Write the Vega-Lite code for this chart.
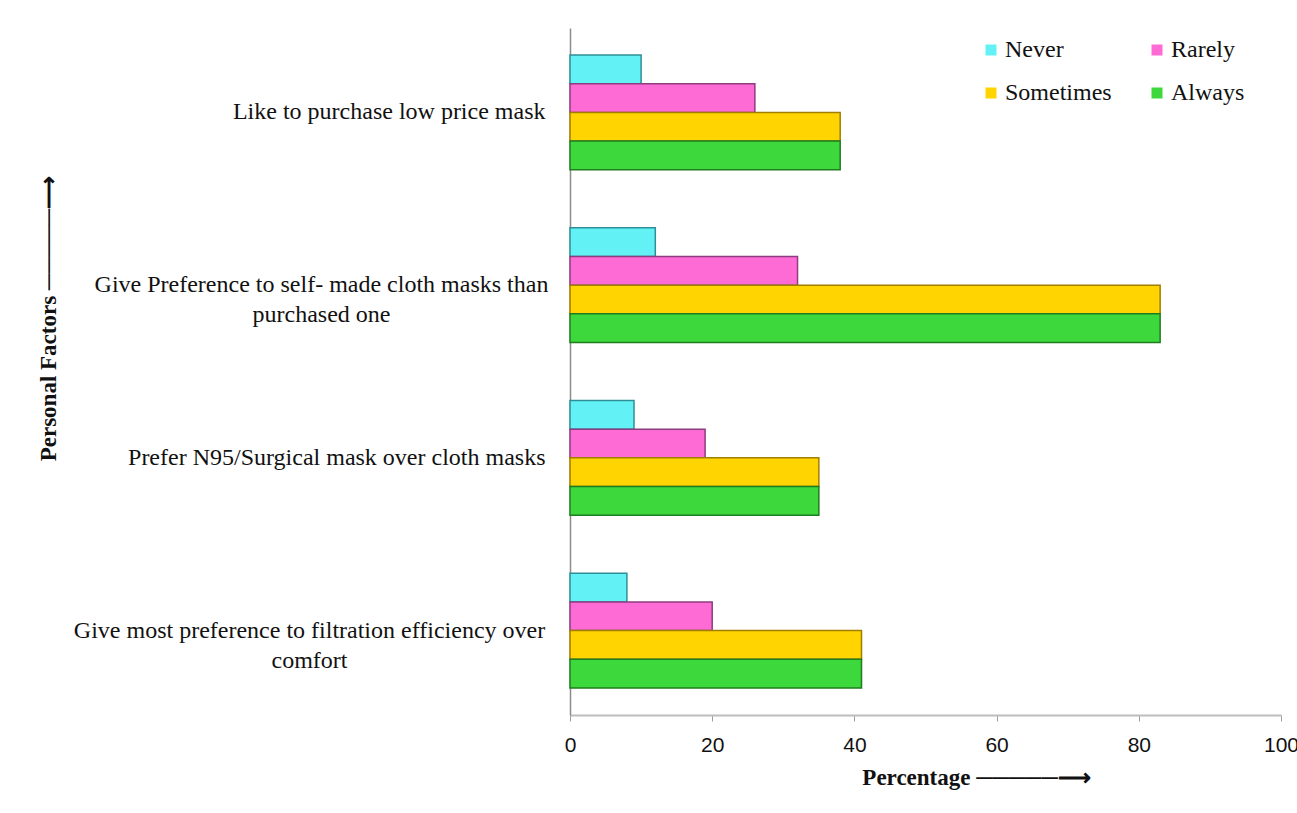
{
  "$schema": "https://vega.github.io/schema/vega-lite/v6.json",
  "autosize": {"type": "none"},
  "width": 711,
  "height": 687,
  "padding": {"left": 570, "top": 28, "right": 16, "bottom": 98},
  "background": "white",
  "config": {
    "view": {"stroke": null},
    "font": "Liberation Serif"
  },
  "data": {
    "values": [
      {"factor": "Like to purchase  low price mask", "response": "Never", "pct": 10},
      {"factor": "Like to purchase  low price mask", "response": "Rarely", "pct": 26},
      {"factor": "Like to purchase  low price mask", "response": "Sometimes", "pct": 38},
      {"factor": "Like to purchase  low price mask", "response": "Always", "pct": 38},
      {"factor": "Give Preference to self- made cloth masks than|purchased one", "response": "Never", "pct": 12},
      {"factor": "Give Preference to self- made cloth masks than|purchased one", "response": "Rarely", "pct": 32},
      {"factor": "Give Preference to self- made cloth masks than|purchased one", "response": "Sometimes", "pct": 83},
      {"factor": "Give Preference to self- made cloth masks than|purchased one", "response": "Always", "pct": 83},
      {"factor": "Prefer N95/Surgical mask over cloth masks", "response": "Never", "pct": 9},
      {"factor": "Prefer N95/Surgical mask over cloth masks", "response": "Rarely", "pct": 19},
      {"factor": "Prefer N95/Surgical mask over cloth masks", "response": "Sometimes", "pct": 35},
      {"factor": "Prefer N95/Surgical mask over cloth masks", "response": "Always", "pct": 35},
      {"factor": "Give most preference to filtration efficiency over|comfort", "response": "Never", "pct": 8},
      {"factor": "Give most preference to filtration efficiency over|comfort", "response": "Rarely", "pct": 20},
      {"factor": "Give most preference to filtration efficiency over|comfort", "response": "Sometimes", "pct": 41},
      {"factor": "Give most preference to filtration efficiency over|comfort", "response": "Always", "pct": 41}
    ]
  },
  "mark": {"type": "bar", "strokeWidth": 1.5},
  "encoding": {
    "y": {
      "field": "factor",
      "type": "nominal",
      "sort": null,
      "scale": {"paddingInner": 0.335, "paddingOuter": 0.156},
      "axis": {
        "title": "Personal Factors \u2500\u2500\u2500\u2500\u2500\u27F6",
        "titleFont": "Liberation Serif",
        "titleFontWeight": "bold",
        "titleFontSize": 23,
        "titleColor": "#111",
        "titleX": -522,
        "titleY": 290,
        "titleAngle": -90,
        "titleAlign": "center",
        "titleBaseline": "middle",
        "ticks": false,
        "domainColor": "#8c8c8c",
        "domainWidth": 1.5,
        "labelFont": "Liberation Serif",
        "labelFontSize": 24,
        "labelColor": "#111",
        "labelPadding": 25,
        "labelLimit": 700,
        "labelLineHeight": 30,
        "labelExpr": "split(datum.value, '|')",
        "encoding": {
          "labels": {
            "align": {"condition": {"test": "indexof(datum.value, '|') >= 0", "value": "center"}, "value": "right"},
            "dx": {"condition": [{"test": "indexof(datum.value, 'self-') >= 0", "value": -224}, {"test": "indexof(datum.value, 'filtration') >= 0", "value": -236}], "value": 0}
          }
        }
      }
    },
    "yOffset": {
      "field": "response",
      "type": "nominal",
      "sort": ["Never", "Rarely", "Sometimes", "Always"],
      "scale": {"paddingInner": 0, "paddingOuter": 0}
    },
    "x": {
      "field": "pct",
      "type": "quantitative",
      "scale": {"domain": [0, 100]},
      "axis": {
        "values": [0, 20, 40, 60, 80, 100],
        "grid": false,
        "title": "Percentage \u2500\u2500\u2500\u2500\u2500\u27F6",
        "titleFont": "Liberation Serif",
        "titleFontWeight": "bold",
        "titleFontSize": 23,
        "titleColor": "#111",
        "titleX": 406,
        "titleY": 62,
        "titleAlign": "center",
        "titleBaseline": "middle",
        "domainColor": "#bdbdbd",
        "domainWidth": 2,
        "tickColor": "#9e9e9e",
        "tickSize": 6,
        "labelFlush": false,
        "labelFont": "Liberation Sans",
        "labelFontSize": 21,
        "labelColor": "#111",
        "labelPadding": 13
      }
    },
    "fill": {
      "field": "response",
      "type": "nominal",
      "scale": {
        "domain": ["Never", "Rarely", "Sometimes", "Always"],
        "range": ["#62F2F5", "#FF6BD5", "#FFD400", "#3CD83C"]
      },
      "legend": {
        "title": null,
        "orient": "none",
        "direction": "horizontal",
        "legendX": 409,
        "legendY": 10,
        "columns": 2,
        "columnPadding": 33,
        "rowPadding": 19,
        "symbolType": "square",
        "symbolSize": 121,
        "symbolStrokeWidth": 0,
        "labelFont": "Liberation Serif",
        "labelFontSize": 24,
        "labelColor": "#111",
        "labelOffset": 2
      }
    },
    "stroke": {
      "field": "response",
      "type": "nominal",
      "scale": {
        "domain": ["Never", "Rarely", "Sometimes", "Always"],
        "range": ["#2E8F98", "#8E3C80", "#A07E00", "#1E7D1E"]
      },
      "legend": null
    }
  }
}
